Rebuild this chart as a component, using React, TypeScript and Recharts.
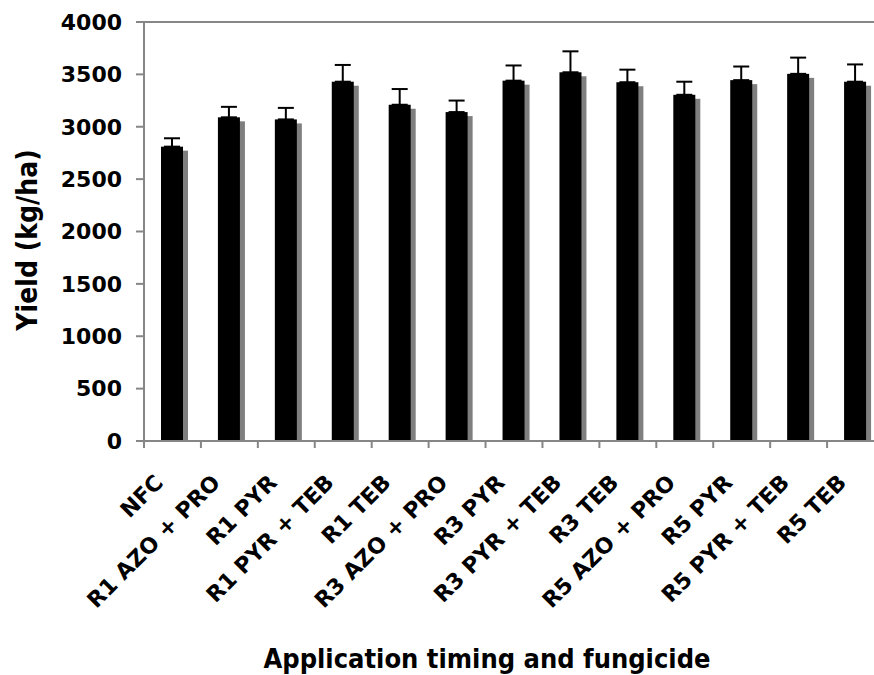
import React from "react"
import { Bar, BarChart, ErrorBar, ReferenceLine, XAxis, YAxis } from "recharts"

const categories = [
  "NFC",
  "R1 AZO + PRO",
  "R1 PYR",
  "R1 PYR + TEB",
  "R1 TEB",
  "R3 AZO + PRO",
  "R3 PYR",
  "R3 PYR + TEB",
  "R3 TEB",
  "R5 AZO + PRO",
  "R5 PYR",
  "R5 PYR + TEB",
  "R5 TEB",
]
const yields = [2810, 3090, 3070, 3430, 3210, 3140, 3440, 3520, 3425, 3305, 3445, 3505, 3430]
const errors = [80, 100, 110, 160, 150, 110, 145, 200, 120, 125, 130, 155, 165]
const yTicks = [0, 500, 1000, 1500, 2000, 2500, 3000, 3500, 4000]

const data = categories.map((name, i) => ({ name, yield: yields[i], err: [0, errors[i]] }))

const FONT = "'DejaVu Sans', Verdana, sans-serif"
const TITLE_FONT = "'DejaVu Sans Condensed', 'DejaVu Sans', sans-serif"
const AXIS = "#868686"
const W = 890
const H = 675
const LEFT = 144
const RIGHT = 6
const BAND = (W - LEFT - RIGHT) / categories.length

const ShadowBar = (props: any) => {
  const { x, y, width, height } = props
  return (
    <g>
      <rect x={x + 5} y={y + 4} width={width} height={Math.max(height - 4, 0)} fill="#7f7f7f" />
      <rect x={x} y={y} width={width} height={height} fill="#000" />
    </g>
  )
}

const CategoryTick = (props: any) => {
  const { x, y, payload } = props
  const left = x - BAND / 2
  const axisY = y - 8
  return (
    <g>
      <line x1={left} y1={axisY} x2={left} y2={axisY + 7} stroke={AXIS} strokeWidth={2} />
      <g transform={`translate(${x - 8},${axisY + 43}) rotate(-45)`}>
        <text x={0} y={0} textAnchor="end" fontFamily={FONT} fontWeight="bold" fontSize={22} fill="#000">
          {payload.value}
        </text>
      </g>
    </g>
  )
}

export default function App() {
  return (
    <div style={{ position: "absolute", left: 0, top: 0, width: 874, height: 675, overflow: "hidden", background: "#fff" }}>
      <BarChart width={W} height={H} data={data} margin={{ top: 22, right: RIGHT, left: 0, bottom: 0 }}>
        <XAxis
          dataKey="name"
          height={234}
          interval={0}
          tickLine={false}
          tickSize={6}
          tickMargin={2}
          stroke={AXIS}
          strokeWidth={2}
          tick={<CategoryTick />}
          label={{
            content: () => (
              <text
                x={487}
                y={668}
                textAnchor="middle"
                fontFamily={TITLE_FONT}
                fontStretch="condensed"
                fontWeight="bold"
                fontSize={27}
                fill="#000"
              >
                Application timing and fungicide
              </text>
            ),
          }}
        />
        <YAxis
          width={LEFT}
          domain={[0, 4000]}
          ticks={yTicks}
          tickSize={8}
          tickMargin={14}
          stroke={AXIS}
          strokeWidth={2}
          tick={{ fill: "#000", fontFamily: FONT, fontWeight: "bold", fontSize: 22 }}
          label={{
            content: () => (
              <text
                transform="translate(27,240) rotate(-90)"
                textAnchor="middle"
                dominantBaseline="central"
                fontFamily={TITLE_FONT}
                fontStretch="condensed"
                fontWeight="bold"
                fontSize={28}
                fill="#000"
              >
                Yield (kg/ha)
              </text>
            ),
          }}
        />
        <ReferenceLine y={4000} stroke={AXIS} strokeWidth={2} />
        <Bar dataKey="yield" barSize={22} shape={<ShadowBar />} isAnimationActive={false}>
          <ErrorBar dataKey="err" direction="y" width={8} stroke="#000" strokeWidth={2} isAnimationActive={false} />
        </Bar>
      </BarChart>
    </div>
  )
}
